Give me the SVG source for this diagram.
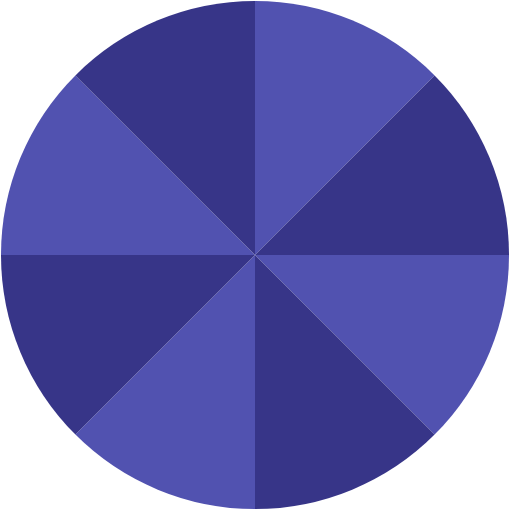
<svg xmlns="http://www.w3.org/2000/svg" width="510" height="510" viewBox="0 0 510 510">
<style>.l{fill:#5152b0}.d{fill:#373588}</style>
<g id="pie">
<path id="s1" class="l" d="M255 255L255 1A254 254 0 0 1 434.6 75.4Z"/>
<path id="s2" class="d" d="M255 255L434.6 75.4A254 254 0 0 1 509 255Z"/>
<path id="s3" class="l" d="M255 255L509 255A254 254 0 0 1 434.6 434.6Z"/>
<path id="s4" class="d" d="M255 255L434.6 434.6A254 254 0 0 1 255 509Z"/>
<path id="s5" class="l" d="M255 255L255 509A254 254 0 0 1 75.4 434.6Z"/>
<path id="s6" class="d" d="M255 255L75.4 434.6A254 254 0 0 1 1 255Z"/>
<path id="s7" class="l" d="M255 255L1 255A254 254 0 0 1 75.4 75.4Z"/>
<path id="s8" class="d" d="M255 255L75.4 75.4A254 254 0 0 1 255 1Z"/>
</g>
</svg>
